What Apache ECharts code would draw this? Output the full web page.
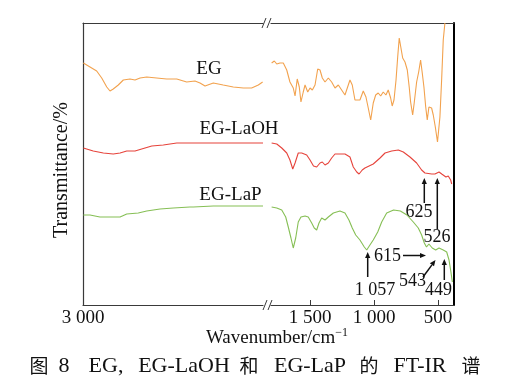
<!DOCTYPE html>
<html><head><meta charset="utf-8">
<script src="https://cdn.jsdelivr.net/npm/echarts@6/dist/echarts.min.js"></script>
<style>html,body{margin:0;padding:0;background:#fff}#c{width:521px;height:384px}</style>
</head><body><div id="c"></div>
<script>
// Wavenumber (cm^-1) and transmittance (arbitrary offset units)
const egLeft = [[2998,242],[2961,238],[2924,234],[2896,227],[2868,218],[2850,214],[2832,216],[2804,220],[2776,225],[2739,226],[2711,225],[2683,227],[2646,228],[2591,227],[2535,226],[2479,226],[2424,223],[2378,224],[2350,222],[2322,219],[2276,222],[2221,220],[2165,218],[2109,217],[2063,217],[2026,220],[2002,223]];
const egRight = [[1800,242],[1779,244],[1760,241],[1735,242],[1709,242],[1682,235],[1657,223],[1631,217],[1617,209],[1600,226],[1584,218],[1571,203],[1553,213],[1539,220],[1518,213],[1500,217],[1482,215],[1461,220],[1440,236],[1422,235],[1404,227],[1383,223],[1357,227],[1331,223],[1305,217],[1279,220],[1253,215],[1227,210],[1188,225],[1170,220],[1149,205],[1110,205],[1084,214],[1063,208],[1045,197],[1026,185],[1006,202],[987,210],[967,212],[948,209],[928,213],[907,210],[889,215],[870,207],[858,199],[844,205],[828,225],[815,248],[803,267],[789,268],[776,247],[758,243],[740,235],[725,218],[714,203],[698,190],[686,202],[667,223],[651,233],[636,245],[623,232],[610,218],[596,198],[584,185],[571,198],[550,197],[537,190],[521,178],[504,163],[485,188],[471,227],[459,265],[446,282]];
const laohLeft = [[2998,157],[2943,154],[2887,152],[2832,151],[2794,152],[2757,154],[2711,154],[2674,156],[2618,159],[2554,160],[2479,162],[2368,162],[2276,162],[2183,162],[2091,162],[2000,162]];
const laohRight = [[1800,162],[1760,161],[1721,157],[1682,152],[1657,145],[1635,136],[1617,142],[1592,152],[1565,152],[1526,150],[1500,145],[1473,139],[1448,138],[1422,142],[1404,143],[1383,140],[1357,142],[1331,147],[1305,151],[1227,151],[1188,148],[1162,138],[1135,133],[1117,131],[1092,135],[1071,137],[1057,137],[1006,141],[953,147],[914,152],[862,154],[810,155],[771,153],[719,148],[667,142],[628,135],[602,132],[549,131],[524,131],[492,133],[471,131],[438,128],[420,129],[401,125],[393,121]];
const lapLeft = [[2998,90],[2961,90],[2906,88],[2850,88],[2794,88],[2757,91],[2693,92],[2646,94],[2572,96],[2498,97],[2406,98],[2387,98],[2276,99],[2183,99],[2000,99]];
const lapRight = [[1800,98],[1760,97],[1721,95],[1690,88],[1670,78],[1649,67],[1631,57],[1612,67],[1592,83],[1571,88],[1539,89],[1514,88],[1487,82],[1467,77],[1448,75],[1430,82],[1409,87],[1383,85],[1357,88],[1318,92],[1266,94],[1227,92],[1196,85],[1170,77],[1143,70],[1110,65],[1076,58],[1057,55],[1032,60],[1006,65],[971,73],[940,83],[901,92],[847,95],[794,94],[743,90],[693,83],[654,77],[628,70],[607,62],[590,58],[571,61],[545,57],[518,55],[492,57],[459,55],[432,53],[414,45],[399,33],[388,23]];
const seriesNames = ['EG','EG-LaOH','EG-LaP'];
const tickValues = [1500, 1000, 500];
const tickLabels = ['1 500', '1 000', '500'];
const leftTickValues = [3000];
const leftTickLabels = ['3 000'];
const peakLabels = ['625','526','615','1 057','543','449'];
const captionParts = ['图','8','EG,','EG-LaOH','和','EG-LaP','的','FT-IR','谱'];

const colors = ['#F2A24E', '#E6433B', '#86BF55'];
const serif = 'Liberation Serif, "Noto Sans CJK SC", serif';
const axisCol = '#3a3a3a';

const chart = echarts.init(document.getElementById('c'), null, {renderer:'canvas'});

function arrow(x1,y1,x2,y2){
  const ang = Math.atan2(y2-y1, x2-x1);
  const L = 6, W = 2.6;
  const bx = x2 - L*Math.cos(ang), by = y2 - L*Math.sin(ang);
  const px = -Math.sin(ang)*W, py = Math.cos(ang)*W;
  return [
    {type:'line', shape:{x1:x1,y1:y1,x2:bx,y2:by}, style:{stroke:'#111', lineWidth:1.5}, silent:true},
    {type:'polygon', shape:{points:[[x2,y2],[bx+px,by+py],[bx-px,by-py]]}, style:{fill:'#111'}, silent:true}
  ];
}
function txt(x,y,t,size,align){
  return {type:'text', x:x, y:y, style:{text:t, font:size+'px '+serif, fill:'#111', textAlign:align||'center', textVerticalAlign:'middle'}, silent:true};
}
function slash(x,y){
  return [
    {type:'line', shape:{x1:x-1,y1:y+5,x2:x+3,y2:y-5}, style:{stroke:axisCol,lineWidth:1}, silent:true},
    {type:'line', shape:{x1:x+4,y1:y+5,x2:x+8,y2:y-5}, style:{stroke:axisCol,lineWidth:1}, silent:true}
  ];
}

// caption pieces, centred on their spans in the reference
const capX = [39, 64, 106, 184, 249, 310, 369, 420, 471];
const caption = captionParts.map((p,i)=>{
  const cjk = /[\u4e00-\u9fff]/.test(p);
  return {type:'text', x:capX[i], y:366, style:{text:p, font:(cjk?'19px "Noto Sans CJK SC", serif':'22px '+serif), fill:'#111', textAlign:'center', textVerticalAlign:'middle'}, silent:true};
});

const graphics = [].concat(
  slash(263,23), slash(264,305),
  [txt(209,69,seriesNames[0],19), txt(239,129,seriesNames[1],19), txt(230.5,195,seriesNames[2],19)],
  arrow(424.3,203,424.3,178), arrow(437.3,229,437.3,178),
  [txt(419,212,peakLabels[0],18), txt(437,237,peakLabels[1],18)],
  arrow(403,255.5,426,255.5), [txt(387.5,256.5,peakLabels[2],18)],
  arrow(367.7,277,367.7,252), [txt(375,290,peakLabels[3],18)],
  arrow(423,277,435.5,260), [txt(412.5,281.5,peakLabels[4],18)],
  arrow(444.3,280,444.3,259), [txt(438.5,290,peakLabels[5],18)],
  [
    {type:'text', x:277, y:338, style:{text:'Wavenumber/cm{s|−1}', rich:{s:{font:'12px '+serif, fill:'#111', padding:[0,0,10,0]}}, font:'19px '+serif, fill:'#111', textAlign:'center', textVerticalAlign:'middle'}, silent:true},
    {type:'text', x:62, y:170, rotation:Math.PI/2, style:{text:'Transmittance/%', font:'20px '+serif, fill:'#111', textAlign:'center', textVerticalAlign:'middle'}, silent:true}
  ],
  caption
);

const lineStyleOf = i => ({color: colors[i], width: 1.1});
function mk(name, data, i, g){
  return {name:name, type:'line', data:data, xAxisIndex: g*2, yAxisIndex: g, showSymbol:false, symbol:'none', lineStyle:lineStyleOf(i), itemStyle:{color:colors[i]}, silent:true, animation:false, clip:false};
}

chart.setOption({
  animation:false,
  grid:[
    {left:83, top:23, width:180, height:282},
    {left:271, top:23, width:183, height:282}
  ],
  xAxis:[
    {gridIndex:0, type:'value', min:2000, max:3000, inverse:true, position:'bottom',
     axisLine:{show:true, lineStyle:{color:axisCol, width:1.2}}, axisTick:{show:false}, splitLine:{show:false},
     axisLabel:{customValues:leftTickValues, formatter:v=>leftTickLabels[leftTickValues.indexOf(v)]||'', color:'#111', fontFamily:serif, fontSize:19, margin:4}},
    {gridIndex:0, type:'value', min:2000, max:3000, inverse:true, position:'top',
     axisLine:{show:true, lineStyle:{color:axisCol, width:1.2}}, axisTick:{show:false}, axisLabel:{show:false}, splitLine:{show:false}},
    {gridIndex:1, type:'value', min:375, max:1805, inverse:true, position:'bottom',
     axisLine:{show:true, lineStyle:{color:axisCol, width:1.2}},
     axisTick:{show:true, inside:true, length:5, customValues:tickValues, lineStyle:{color:axisCol}},
     splitLine:{show:false},
     axisLabel:{customValues:tickValues, formatter:v=>tickLabels[tickValues.indexOf(v)]||'', color:'#111', fontFamily:serif, fontSize:19, margin:4}},
    {gridIndex:1, type:'value', min:375, max:1805, inverse:true, position:'top',
     axisLine:{show:true, lineStyle:{color:axisCol, width:1.2}}, axisTick:{show:false}, axisLabel:{show:false}, splitLine:{show:false}}
  ],
  yAxis:[
    {gridIndex:0, type:'value', min:0, max:282, position:'left', axisLine:{show:true, lineStyle:{color:axisCol, width:1.2}}, axisTick:{show:false}, axisLabel:{show:false}, splitLine:{show:false}},
    {gridIndex:1, type:'value', min:0, max:282, position:'right', axisLine:{show:true, lineStyle:{color:'#000', width:2}}, axisTick:{show:false}, axisLabel:{show:false}, splitLine:{show:false}}
  ],
  series:[
    mk(seriesNames[0], egLeft, 0, 0), mk(seriesNames[0], egRight, 0, 1),
    mk(seriesNames[1], laohLeft, 1, 0), mk(seriesNames[1], laohRight, 1, 1),
    mk(seriesNames[2], lapLeft, 2, 0), mk(seriesNames[2], lapRight, 2, 1)
  ],
  graphic: graphics
});
</script></body></html>
